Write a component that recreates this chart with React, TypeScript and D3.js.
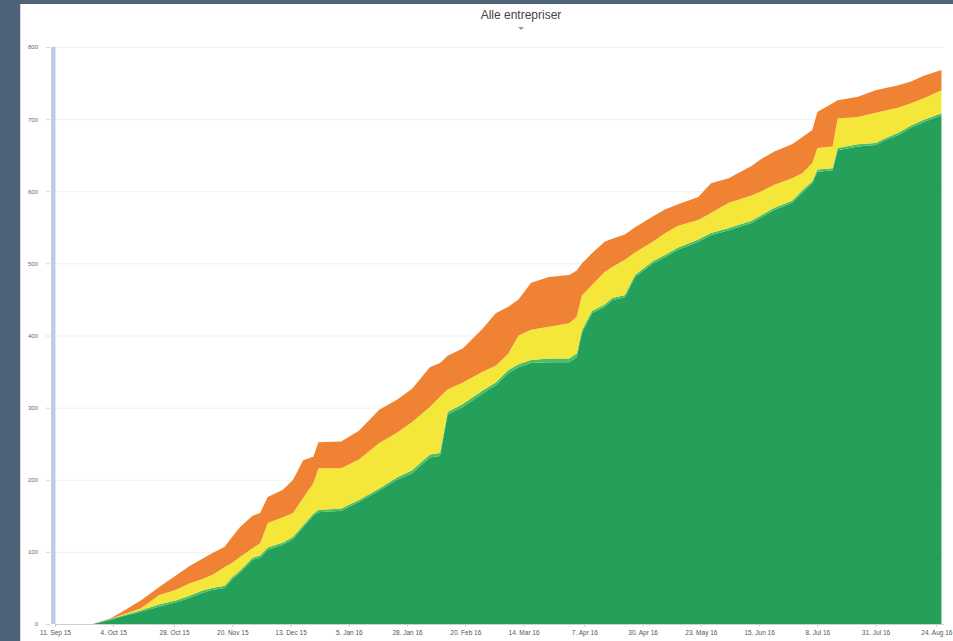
import React, { useEffect, useRef } from "react";
import * as d3 from "d3";

const dates: string[] = [
  "2015-09-11", "2015-09-26", "2015-10-03", "2015-10-07", "2015-10-15", "2015-10-22",
  "2015-10-29", "2015-11-03", "2015-11-08", "2015-11-12", "2015-11-17", "2015-11-20",
  "2015-11-23", "2015-11-28", "2015-12-01", "2015-12-04", "2015-12-10", "2015-12-14",
  "2015-12-18", "2015-12-22", "2015-12-24", "2016-01-02", "2016-01-09", "2016-01-17",
  "2016-01-24", "2016-01-30", "2016-02-06", "2016-02-10", "2016-02-13", "2016-02-19",
  "2016-02-27", "2016-03-03", "2016-03-08", "2016-03-12", "2016-03-17", "2016-03-24",
  "2016-04-01", "2016-04-04", "2016-04-06", "2016-04-10", "2016-04-15", "2016-04-18",
  "2016-04-23", "2016-04-27", "2016-05-04", "2016-05-09", "2016-05-14", "2016-05-22",
  "2016-05-27", "2016-06-03", "2016-06-12", "2016-06-16", "2016-06-21", "2016-06-28",
  "2016-07-02", "2016-07-06", "2016-07-08", "2016-07-14", "2016-07-16", "2016-07-24",
  "2016-07-31", "2016-08-04", "2016-08-09", "2016-08-14", "2016-08-19", "2016-08-26",
];

// series values (per layer, stacked in this order)
const green: number[] = [
  0, 0, 6, 10, 17, 24, 30, 36, 43, 47, 50, 62, 71, 89, 92, 103, 110, 118, 134, 150, 155, 157,
  169, 185, 200, 209, 231, 233, 290, 301, 320, 331, 348, 356, 362, 363, 363, 370, 403, 431,
  440, 449, 453, 481, 500, 509, 519, 530, 539, 546, 556, 564, 574, 584, 598, 611, 627, 629,
  657, 662, 664, 671, 678, 688, 696, 705,
];
const lightGreen: number[] = [
  0, 0, 1, 1, 2, 3, 3, 3, 3, 3, 3, 3, 3, 3, 3, 3, 3, 3, 3, 3, 3, 3, 3, 3, 3, 4, 4, 4, 4, 4,
  4, 4, 4, 4, 4, 5, 5, 5, 4, 3, 3, 3, 3, 3, 3, 3, 3, 3, 3, 3, 3, 3, 3, 3, 3, 3, 3, 3, 3, 3,
  3, 3, 3, 3, 3, 3,
];
const yellow: number[] = [
  0, 0, 0, 1, 3, 13, 15, 17, 16, 18, 26, 20, 19, 13, 17, 34, 35, 33, 38, 42, 58, 56, 56, 63,
  62, 67, 66, 78, 31, 30, 26, 23, 23, 40, 42, 44, 49, 51, 48, 36, 45, 43, 49, 31, 27, 30, 30,
  27, 28, 35, 35, 33, 32, 31, 24, 25, 30, 30, 41, 38, 42, 38, 35, 31, 30, 32,
];
const orange: number[] = [
  0, 0, 1, 4, 11, 11, 20, 24, 28, 30, 28, 36, 41, 45, 42, 36, 38, 46, 52, 37, 36, 37, 40, 46,
  46, 46, 55, 47, 47, 47, 60, 73, 65, 50, 65, 69, 67, 64, 45, 44, 42, 39, 35, 35, 35, 33, 30,
  32, 41, 34, 41, 45, 46, 47, 50, 46, 50, 60, 25, 28, 31, 31, 31, 30, 31, 28,
];

const seriesKeys = ["green", "lightGreen", "yellow", "orange"];
const seriesColors: Record<string, string> = {
  green: "#24a05b",
  lightGreen: "#4cbf63",
  yellow: "#f5e63a",
  orange: "#ef8333",
};

const xTicks: string[] = [
  "2015-09-11", "2015-10-04", "2015-10-28", "2015-11-20", "2015-12-13", "2016-01-05",
  "2016-01-28", "2016-02-20", "2016-03-14", "2016-04-07", "2016-04-30", "2016-05-23",
  "2016-06-15", "2016-07-08", "2016-07-31", "2016-08-24",
];
const yTicks: number[] = [0, 100, 200, 300, 400, 500, 600, 700, 800];

const title = "Alle entrepriser";

const App: React.FC = () => {
  const svgRef = useRef<SVGSVGElement | null>(null);

  useEffect(() => {
    if (!svgRef.current) return;
    const width = 953;
    const height = 641;
    const plot = { left: 55, right: 944, top: 47, bottom: 624 };

    const svg = d3.select(svgRef.current);
    svg.selectAll("*").remove();
    svg.attr("width", width).attr("height", height);

    const parse = d3.timeParse("%Y-%m-%d");
    const rows = dates.map((d, i) => ({
      date: parse(d) as Date,
      green: green[i],
      lightGreen: lightGreen[i],
      yellow: yellow[i],
      orange: orange[i],
    }));

    // background frame
    svg.append("rect").attr("width", width).attr("height", height).attr("fill", "#4f6378");
    svg.append("rect").attr("x", 20).attr("y", 4).attr("width", width - 20).attr("height", height - 4).attr("fill", "#ffffff");
    svg.append("line").attr("x1", 20.5).attr("x2", 20.5).attr("y1", 4).attr("y2", height).attr("stroke", "#d8d8d8");

    const x = d3
      .scaleTime()
      .domain([parse("2015-09-11") as Date, parse("2016-08-27") as Date])
      .range([plot.left, plot.right]);
    const y = d3.scaleLinear().domain([0, 800]).range([plot.bottom, plot.top]);

    // grid lines
    svg
      .append("g")
      .selectAll("line")
      .data(yTicks.slice(1))
      .enter()
      .append("line")
      .attr("x1", plot.left)
      .attr("x2", plot.right)
      .attr("y1", d => y(d) + 0.5)
      .attr("y2", d => y(d) + 0.5)
      .attr("stroke", "#f1f1f1");

    // stacked areas
    const stack = d3.stack<any>().keys(seriesKeys);
    const layers = stack(rows);
    const area = d3
      .area<any>()
      .x(d => x(d.data.date))
      .y0(d => y(d[0]))
      .y1(d => y(d[1]));

    svg
      .append("g")
      .selectAll("path")
      .data(layers)
      .enter()
      .append("path")
      .attr("d", area)
      .attr("fill", d => seriesColors[d.key]);

    // blue band on the y axis
    svg
      .append("rect")
      .attr("x", 51)
      .attr("y", plot.top)
      .attr("width", 4.5)
      .attr("height", plot.bottom - plot.top)
      .attr("fill", "#bccfe1");

    // y axis
    const yAxis = svg
      .append("g")
      .attr("transform", `translate(${plot.left - 5},0)`)
      .call(d3.axisLeft(y).tickValues(yTicks).tickSize(4).tickPadding(8));
    yAxis.select(".domain").remove();
    yAxis.selectAll("line").attr("stroke", "#d8d8d8");
    yAxis
      .selectAll("text")
      .attr("fill", "#666")
      .style("font-family", "Liberation Sans, Arial, sans-serif")
      .style("font-size", "6px");

    // x axis
    const xAxis = svg
      .append("g")
      .attr("transform", `translate(0,${plot.bottom})`)
      .call(
        d3
          .axisBottom(x)
          .tickValues(xTicks.map(t => parse(t) as Date))
          .tickFormat(d => d3.timeFormat("%-d. %b %y")(d as Date))
          .tickSize(3)
          .tickPadding(3)
      );
    xAxis.select(".domain").attr("stroke", "#d0d0d0").attr("d", `M${plot.left},0.5H${plot.right}`);
    xAxis.selectAll("line").attr("stroke", "#d0d0d0");
    xAxis
      .selectAll("text")
      .attr("fill", "#555")
      .style("font-family", "Liberation Sans, Arial, sans-serif")
      .style("font-size", "6.5px");

    // title and dropdown arrow
    svg
      .append("text")
      .attr("x", 521)
      .attr("y", 19)
      .attr("text-anchor", "middle")
      .attr("fill", "#444")
      .style("font-family", "Liberation Sans, Arial, sans-serif")
      .style("font-size", "12px")
      .text(title);
    svg
      .append("path")
      .attr("d", "M518,27L524,27L521,30Z")
      .attr("fill", "#999");
  }, []);

  return (
    <div style={{ position: "absolute", left: 0, top: 0 }}>
      <svg ref={svgRef} style={{ display: "block" }}></svg>
    </div>
  );
};

export default App;
